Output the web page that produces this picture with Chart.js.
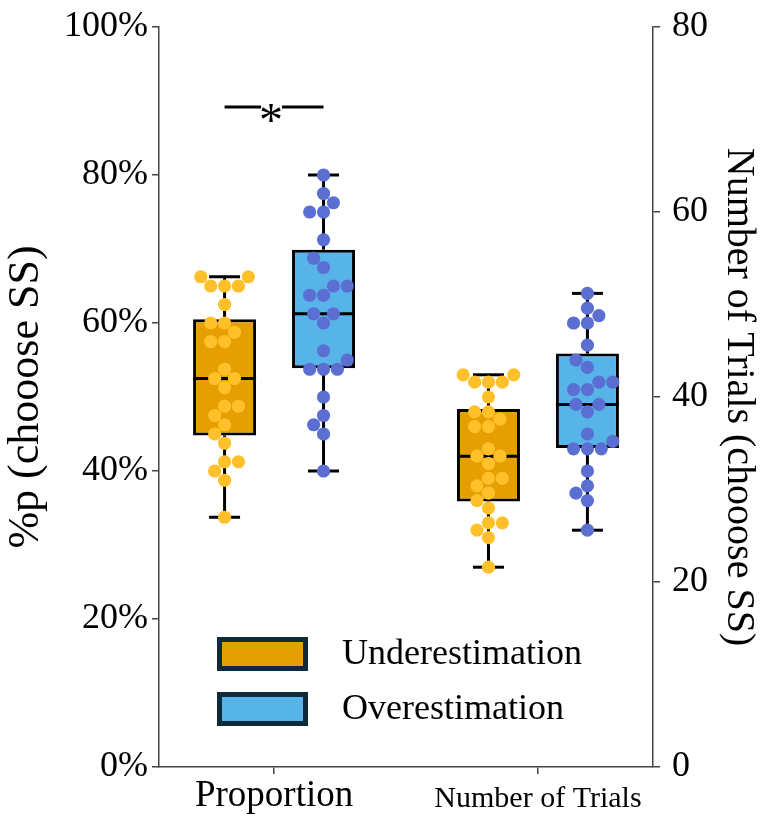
<!DOCTYPE html>
<html><head><meta charset="utf-8">
<script src="https://cdn.jsdelivr.net/npm/chart.js@4.4.1/dist/chart.umd.min.js"></script>
<style>html,body{margin:0;padding:0;background:#fff;}canvas{display:block;}</style>
</head><body>
<canvas id="c" width="784" height="820"></canvas>
<script>
// ---------------- data ----------------
const categories = ['Proportion', 'Number of Trials'];
const seriesNames = ['Underestimation', 'Overestimation'];

const underProportion = [66.25, 66.25, 65, 65, 65, 62.5, 60, 60, 58.75, 57.5, 57.5, 53.75, 52.5, 52.5, 51.25, 48.75, 48.75, 47.5, 46.25, 45, 43.75, 41.25, 41.25, 40, 38.75, 33.75];
const overProportion = [80, 77.5, 76.25, 75, 75, 71.25, 68.75, 67.5, 65, 65, 63.75, 63.75, 61.25, 61.25, 60, 56.25, 55, 53.75, 53.75, 53.75, 50, 47.5, 46.25, 45, 40];
const underTrials = [42.4, 42.4, 41.6, 41.6, 41.6, 40, 38.4, 38.4, 37.6, 36.8, 36.8, 34.4, 33.6, 33.6, 32.8, 31.2, 31.2, 30.4, 29.6, 28.8, 28, 26.4, 26.4, 25.6, 24.8, 21.6];
const overTrials = [51.2, 49.6, 48.8, 48, 48, 45.6, 44, 43.2, 41.6, 41.6, 40.8, 40.8, 39.2, 39.2, 38.4, 36, 35.2, 34.4, 34.4, 34.4, 32, 30.4, 29.6, 28.8, 25.6];

// box statistics: [whisker low, q1, median, q3, whisker high]
const underProportionBox = [33.75, 44.8, 52.5, 60.5, 66.25];
const overProportionBox = [40, 53.9, 61.25, 69.9, 80];
const underTrialsBox = [21.6, 28.7, 33.6, 38.7, 42.4];
const overTrialsBox = [25.6, 34.5, 39.2, 44.7, 51.2];

const leftTicks = [0, 20, 40, 60, 80, 100];
const rightTicks = [0, 20, 40, 60, 80];
const significance = [{ category: 0, value: 89.2, label: '*' }];

// ---------------- style ----------------
const FONT = "'Liberation Serif', 'Times New Roman', serif";
const GROUP_OFFSET = 0.1875;
const BOX_FILL = ['#E69F00', '#56B4E9'];
const DOT_FILL = ['#FFC02A', '#5B6FD3'];
const DOT_R = 6.6;
const CAP_HALF = 15.5;
const AXIS_COLOR = '#444';

const groups = [
  { cat: 0, series: 0, axis: 'y', values: underProportion, box: underProportionBox },
  { cat: 0, series: 1, axis: 'y', values: overProportion, box: overProportionBox },
  { cat: 1, series: 0, axis: 'y1', values: underTrials, box: underTrialsBox },
  { cat: 1, series: 1, axis: 'y1', values: overTrials, box: overTrialsBox }
];
const offsetFor = s => (s === 0 ? -GROUP_OFFSET : GROUP_OFFSET);

const datasets = [];
groups.forEach(g => {
  const cx = g.cat + offsetFor(g.series);
  datasets.push({
    type: 'bar', label: seriesNames[g.series], yAxisID: g.axis,
    data: [{ x: cx, y: [g.box[1], g.box[3]] }],
    backgroundColor: BOX_FILL[g.series], borderColor: '#000', borderWidth: 3,
    borderSkipped: false, grouped: false, maxBarThickness: 63, order: 2,
    boxStats: g.box
  });
});
groups.forEach(g => {
  const cx = g.cat + offsetFor(g.series);
  datasets.push({
    type: 'scatter', label: seriesNames[g.series] + ' points', yAxisID: g.axis,
    data: g.values.map(v => ({ x: cx, y: v })),
    backgroundColor: DOT_FILL[g.series], borderWidth: 0,
    pointRadius: DOT_R, pointHoverRadius: DOT_R, order: 1,
    swarmCenter: cx
  });
});

// whiskers, caps and medians
const boxDecor = {
  id: 'boxDecor',
  afterDatasetDraw(chart, args) {
    const ds = chart.data.datasets[args.index];
    if (!ds.boxStats) return;
    const ctx = chart.ctx;
    const xs = chart.scales.x, ys = chart.scales[ds.yAxisID];
    const cx = xs.getPixelForValue(ds.data[0].x);
    const [mn, q1, med, q3, mx] = ds.boxStats.map(v => ys.getPixelForValue(v));
    const bar = args.meta.data[0];
    const half = bar.width / 2;
    ctx.save();
    ctx.strokeStyle = '#000'; ctx.lineWidth = 3; ctx.lineCap = 'butt';
    const seg = (a, b, c, d) => { ctx.beginPath(); ctx.moveTo(a, b); ctx.lineTo(c, d); ctx.stroke(); };
    seg(cx, q1, cx, mn);
    seg(cx, q3, cx, mx);
    seg(cx - CAP_HALF, mn, cx + CAP_HALF, mn);
    seg(cx - CAP_HALF, mx, cx + CAP_HALF, mx);
    seg(cx - half, med, cx + half, med);
    ctx.restore();
  }
};

// significance bar and legend
const extras = {
  id: 'extras',
  afterDraw(chart) {
    const ctx = chart.ctx, xs = chart.scales.x, ys = chart.scales.y, area = chart.chartArea;
    ctx.save();
    significance.forEach(s => {
      const x1 = xs.getPixelForValue(s.category - GROUP_OFFSET);
      const x2 = xs.getPixelForValue(s.category + GROUP_OFFSET);
      const y = ys.getPixelForValue(s.value);
      const mid = (x1 + x2) / 2;
      ctx.strokeStyle = '#000'; ctx.lineWidth = 3;
      ctx.beginPath(); ctx.moveTo(x1, y); ctx.lineTo(mid - 13, y); ctx.stroke();
      ctx.beginPath(); ctx.moveTo(mid + 8, y); ctx.lineTo(x2, y); ctx.stroke();
      ctx.fillStyle = '#000'; ctx.font = '48px ' + FONT;
      ctx.textAlign = 'center'; ctx.textBaseline = 'alphabetic';
      ctx.fillText(s.label, mid - 3, y + 29);
    });
    // legend
    seriesNames.forEach((name, i) => {
      const bx = area.left + 58, by = area.bottom - 130 + i * 55;
      ctx.fillStyle = '#0F2A3A';
      ctx.fillRect(bx, by, 91, 34);
      ctx.fillStyle = BOX_FILL[i];
      ctx.fillRect(bx + 5, by + 5, 81, 24);
      ctx.fillStyle = '#000'; ctx.font = '36px ' + FONT;
      ctx.textAlign = 'left'; ctx.textBaseline = 'middle';
      ctx.fillText(name, bx + 125, by + 18);
    });
    ctx.restore();
  }
};

const axisGrid = { display: true, offset: false, drawOnChartArea: false, drawTicks: true, tickLength: 7, color: AXIS_COLOR, tickColor: AXIS_COLOR, lineWidth: 1.5 };
const axisBorder = { display: true, color: AXIS_COLOR, width: 1.5 };
const noPad = s => { s.paddingTop = 0; s.paddingBottom = 0; s.paddingLeft = 0; s.paddingRight = 0; };

const chart = new Chart(document.getElementById('c'), {
  type: 'scatter',
  data: { datasets },
  options: {
    responsive: false, animation: false, devicePixelRatio: 1,
    layout: { padding: { top: 27, left: 0, right: 0, bottom: 0 } },
    plugins: { legend: { display: false }, tooltip: { enabled: false } },
    scales: {
      x: {
        type: 'linear', position: 'bottom', min: -0.436, max: 1.436, offset: false,
        afterBuildTicks: s => { s.ticks = categories.map((_, i) => ({ value: i })); },
        afterFit: s => { s.height = 53; noPad(s); },
        ticks: {
          autoSkip: false, maxRotation: 0, padding: 0, color: '#000',
          callback: (v, i) => categories[i],
          font: ctx => ctx.index === 0 ? { family: FONT, size: 37, lineHeight: 1.22 } : { family: FONT, size: 30, lineHeight: 1.66 }
        },
        grid: axisGrid, border: axisBorder
      },
      y: {
        type: 'linear', position: 'left', min: 0, max: 100,
        afterBuildTicks: s => { s.ticks = leftTicks.map(v => ({ value: v })); },
        afterFit: s => { s.width = 159; noPad(s); },
        ticks: { callback: v => v + '%', color: '#000', padding: 4, font: { family: FONT, size: 36 } },
        grid: axisGrid, border: axisBorder,
        title: { display: true, text: '%p (chooose SS)', color: '#000', font: { family: FONT, size: 44 }, padding: { top: 0, bottom: 0 } }
      },
      y1: {
        type: 'linear', position: 'right', min: 0, max: 80,
        afterBuildTicks: s => { s.ticks = rightTicks.map(v => ({ value: v })); },
        afterFit: s => { s.width = 131; noPad(s); },
        ticks: { color: '#000', padding: 12, font: { family: FONT, size: 36 } },
        grid: axisGrid, border: axisBorder,
        title: { display: true, text: 'Number of Trials (chooose SS)', color: '#000', font: { family: FONT, size: 40 }, padding: { top: 22, bottom: 0 } }
      }
    }
  },
  plugins: [boxDecor, extras]
});

// beeswarm placement (seaborn-style) in pixel space
function swarm(pts, r, midline) {
  const placed = [];
  pts.forEach((p, k) => {
    if (k === 0) { placed.push({ x: p.x, y: p.y, idx: p.idx }); return; }
    const neighbors = [];
    for (let j = placed.length - 1; j >= 0; j--) {
      if ((p.y - placed[j].y) < 2 * r) neighbors.push(placed[j]); else break;
    }
    const cands = [p.x];
    let leftFirst = true;
    neighbors.forEach(n => {
      const dy = p.y - n.y;
      const dx = Math.sqrt(Math.max(4 * r * r - dy * dy, 0)) * 1.05;
      if (leftFirst) cands.push(n.x - dx, n.x + dx); else cands.push(n.x + dx, n.x - dx);
      leftFirst = !leftFirst;
    });
    const order = cands.map((c, i) => ({ c, i }));
    order.sort((a, b) => (Math.abs(a.c - midline) - Math.abs(b.c - midline)) || (a.i - b.i));
    let chosen = order[0].c;
    if (neighbors.length) {
      for (const o of order) {
        const ok = neighbors.every(n => {
          const dx = n.x - o.c, dy = n.y - p.y;
          return dx * dx + dy * dy >= 4 * r * r - 1e-6;
        });
        if (ok) { chosen = o.c; break; }
      }
    }
    placed.push({ x: chosen, y: p.y, idx: p.idx });
  });
  return placed;
}

chart.data.datasets.forEach(ds => {
  if (ds.swarmCenter === undefined) return;
  const xs = chart.scales.x, ys = chart.scales[ds.yAxisID];
  const mid = xs.getPixelForValue(ds.swarmCenter);
  const pts = ds.data.map((d, i) => ({ x: mid, y: -ys.getPixelForValue(d.y), idx: i }));
  pts.sort((a, b) => (a.y - b.y) || (a.idx - b.idx));
  swarm(pts, DOT_R, mid).forEach(p => { ds.data[p.idx].x = xs.getValueForPixel(p.x); });
});
chart.update('none');
</script>
</body></html>
